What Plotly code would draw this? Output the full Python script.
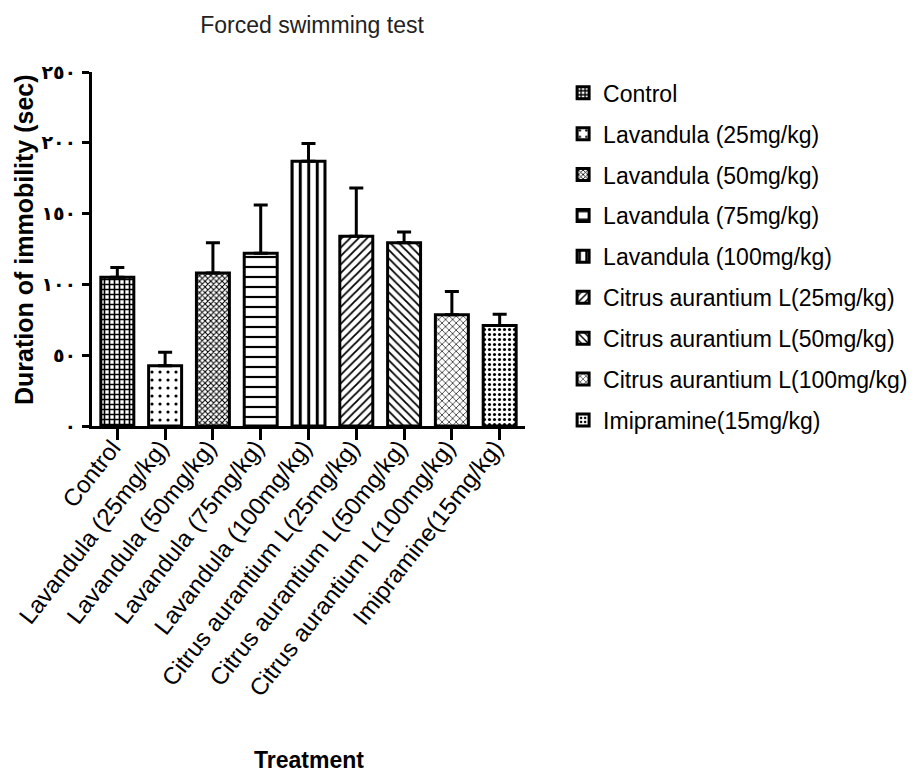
import plotly.graph_objects as go

categories = [
    "Control",
    "Lavandula (25mg/kg)",
    "Lavandula (50mg/kg)",
    "Lavandula (75mg/kg)",
    "Lavandula (100mg/kg)",
    "Citrus aurantium L(25mg/kg)",
    "Citrus aurantium L(50mg/kg)",
    "Citrus aurantium L(100mg/kg)",
    "Imipramine(15mg/kg)",
]
means = [105, 42.5, 108, 122, 187, 134, 129.5, 78.5, 71]
sem = [7, 9.5, 21.5, 34, 12.5, 34, 7.5, 16.5, 8]

y_tickvals = [0, 50, 100, 150, 200, 250]
y_ticktext = ["٠", "٥٠", "١٠٠", "١٥٠", "٢٠٠", "٢٥٠"]

patterns = [
    dict(shape="+", size=5, solidity=0.55),
    dict(shape=".", size=8, solidity=0.12),
    dict(shape="x", size=4, solidity=0.45),
    dict(shape="-", size=10, solidity=0.22),
    dict(shape="|", size=8.5, solidity=0.35),
    dict(shape="/", size=6, solidity=0.3),
    dict(shape="\\", size=6, solidity=0.3),
    dict(shape="x", size=5, solidity=0.25),
    dict(shape=".", size=5, solidity=0.3),
]

# page body has an 8px margin: figure coords = screen coords - 8
W, H = 909, 766
L, T, PW, PH = 84, 64, 433, 354

fig = go.Figure()
for i, (cat, m, e) in enumerate(zip(categories, means, sem)):
    p = patterns[i]
    fig.add_trace(go.Bar(
        x=[cat], y=[m], name=cat, width=0.69,
        legendgroup="g%d" % i,
        marker=dict(color="white", line=dict(color="black", width=3),
                    pattern=dict(shape=p["shape"], size=p["size"], solidity=p["solidity"],
                                 fgcolor="black", bgcolor="white", fillmode="replace")),
        error_y=dict(type="data", symmetric=False, array=[e], arrayminus=[0],
                     color="black", thickness=3, width=7),
    ))

fig.update_layout(
    width=W, height=H,
    barmode="overlay",
    paper_bgcolor="white", plot_bgcolor="white",
    margin=dict(l=L, r=W - L - PW, t=T, b=H - T - PH, autoexpand=False),
    font=dict(family="Liberation Sans, Arial, sans-serif", color="black"),
    title=dict(text="Forced swimming test", x=(312 - 8) / W, xanchor="center",
               y=1 - (25 - 8) / H, yanchor="middle", yref="container",
               font=dict(size=23, color="#222")),
    showlegend=True,
    legend=dict(x=1.088, xanchor="left", y=1.002, yanchor="top",
                font=dict(size=23), tracegroupgap=8, bgcolor="rgba(0,0,0,0)"),
    xaxis=dict(categoryorder="array", categoryarray=categories,
               range=[-0.53, 8.53], showline=True, linecolor="black", linewidth=3,
               ticks="outside", ticklen=11, tickwidth=3, tickcolor="black",
               tickangle=-52, tickfont=dict(size=24, color="black"),
               ticklabelstandoff=-16, ticklabelshift=-5,
               showgrid=False, zeroline=False),
    yaxis=dict(range=[0, 250], tickvals=y_tickvals, ticktext=y_ticktext,
               showline=True, linecolor="black", linewidth=3,
               ticks="outside", ticklen=7, tickwidth=3, tickcolor="black",
               tickfont=dict(size=19, family="DejaVu Sans, sans-serif", weight="bold", color="black"),
               ticklabelstandoff=2,
               showgrid=False, zeroline=False),
    annotations=[
        dict(text="<b>Duration of immobility (sec)</b>", textangle=-90,
             xref="paper", yref="paper", x=(24 - 92) / PW, y=(426 - 240) / PH,
             xanchor="center", yanchor="middle", showarrow=False,
             font=dict(size=25, color="black")),
        dict(text="<b>Treatment</b>", xref="paper", yref="paper",
             x=(309 - 92) / PW, y=(426 - 760) / PH, xanchor="center", yanchor="middle",
             showarrow=False, font=dict(size=23, color="black")),
    ],
)

fig.write_html("out.html")
